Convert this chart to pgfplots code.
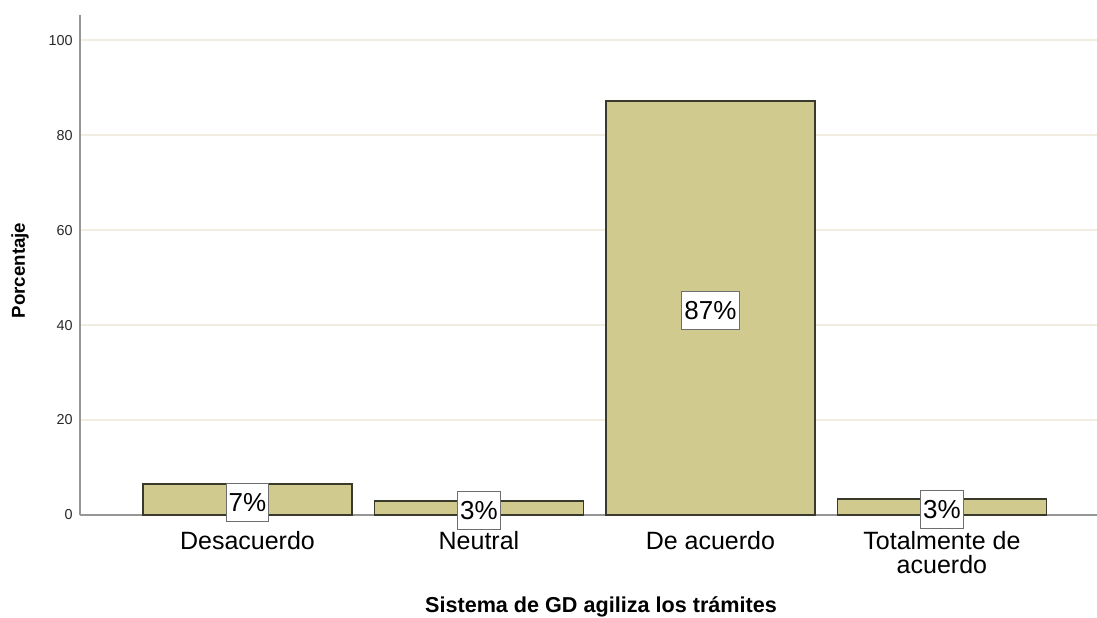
\documentclass[border=0pt]{standalone}
\usepackage{pgfplots}
\pgfplotsset{compat=1.18}
\usepackage{pgfplotstable}
\usepackage{fontspec}
\setmainfont{Liberation Sans}

\definecolor{barfill}{RGB}{208,202,143}
\definecolor{baredge}{RGB}{58,58,44}
\definecolor{gridcol}{RGB}{241,237,224}
\definecolor{axisgray}{RGB}{150,150,150}
\definecolor{ticktext}{RGB}{40,40,40}
\definecolor{boxgray}{RGB}{110,110,110}

% Percentage of answers per category
\pgfplotstableread{
x pct
0 6.5
1 2.9
2 87.2
3 3.4
}\respuestas

\begin{document}
\begin{tikzpicture}
\useasboundingbox (-60pt,-77.25pt) rectangle (762.75pt,386.25pt);
\begin{axis}[
  scale only axis,
  width=762.75pt, height=375pt,
  xmin=-0.7235, xmax=3.67,
  ymin=0, ymax=105.3,
  clip=false,
  axis x line=bottom, axis y line=left,
  axis line style={-, draw=axisgray, line width=1.1pt},
  major tick length=0pt,
  ytick={0,20,40,60,80,100},
  xtick={0,1,2,3},
  xticklabels={Desacuerdo, Neutral, De acuerdo, {Totalmente de\\acuerdo}},
  /pgf/number format/assume math mode=true,
  yticklabel style={font=\fontsize{10.8}{12}\selectfont, text=ticktext, inner sep=0pt, anchor=east, xshift=-5.25pt},
  xticklabel style={font=\fontsize{18.75}{18}\selectfont, align=center, text=black, inner sep=0pt, anchor=north, yshift=-12pt},
  ymajorgrids,
  major grid style={draw=gridcol, line width=1pt},
  ylabel={Porcentaje},
  ylabel style={font=\bfseries\fontsize{14}{16}\selectfont, at={(axis description cs:-0.059,0.489)}, anchor=center},
  xlabel={Sistema de GD agiliza los trámites},
  xlabel style={font=\bfseries\fontsize{16.2}{17}\selectfont, at={(axis description cs:0.5123,-0.184)}, anchor=center},
]
\addplot[ybar, bar width=0.903, fill=barfill, draw=baredge, line width=1.1pt]
  table[x=x, y=pct]{\respuestas};
\addplot[only marks, mark=*, mark size=0pt, draw=none,
  point meta=explicit,
  nodes near coords={\pgfmathprintnumber[fixed,precision=0]{\pgfplotspointmeta}\%},
  every node near coord/.style={anchor=center, fill=white, draw=boxgray, line width=0.7pt,
    inner xsep=2pt, inner ysep=0pt, minimum height=28.5pt, text=black,
    font=\fontsize{19.5}{20}\selectfont, yshift=-2pt}]
  table[x=x, y expr=\thisrow{pct}/2, meta=pct]{\respuestas};
\end{axis}
\end{tikzpicture}
\end{document}
